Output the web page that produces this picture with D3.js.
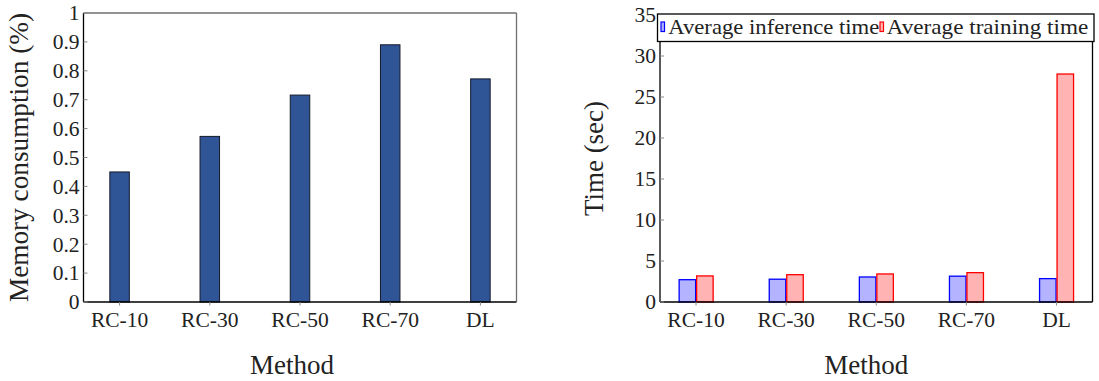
<!DOCTYPE html>
<html>
<head>
<meta charset="utf-8">
<script src="https://cdn.jsdelivr.net/npm/d3@7"></script>
<style>
  html, body { margin: 0; padding: 0; background: #fff; }
  svg { display: block; }
</style>
</head>
<body>
<svg id="chart" width="1099" height="381"></svg>
<script>
// Methods compared on both panels
const methods = ["RC-10", "RC-30", "RC-50", "RC-70", "DL"];

// Left panel: memory consumption (%)
const memoryUsage = [0.45, 0.573, 0.716, 0.89, 0.772];
const memoryTicks = [0, 0.1, 0.2, 0.3, 0.4, 0.5, 0.6, 0.7, 0.8, 0.9, 1];

// Right panel: timings in seconds
const inferenceTime = [2.72, 2.78, 3.05, 3.15, 2.85];
const trainingTime = [3.18, 3.33, 3.42, 3.58, 27.8];
const timeTicks = [0, 5, 10, 15, 20, 25, 30, 35];
const seriesNames = ["Average inference time", "Average training time"];

const FONT = "'Liberation Serif'";

const svg = d3.select("#chart");
svg.append("rect").attr("width", 1099).attr("height", 381).attr("fill", "#fff");

const fmt = d3.format("~g");

function label(g) {
  return g.append("text").style("font-family", FONT).attr("fill", "#222");
}

function drawFrame(g, x0, x1, y0, y1, sideColor) {
  // bottom and left axes
  g.append("line").attr("x1", x0).attr("x2", x1).attr("y1", y1).attr("y2", y1)
    .attr("stroke", "#000").attr("stroke-width", 1.3);
  g.append("line").attr("x1", x0).attr("x2", x0).attr("y1", y0).attr("y2", y1)
    .attr("stroke", "#000").attr("stroke-width", 1.3);
  // top and right border
  g.append("line").attr("x1", x0).attr("x2", x1).attr("y1", y0).attr("y2", y0)
    .attr("stroke", sideColor).attr("stroke-width", 1.3);
  g.append("line").attr("x1", x1).attr("x2", x1).attr("y1", y0).attr("y2", y1)
    .attr("stroke", sideColor).attr("stroke-width", 1.3);
}

function drawYAxis(g, y, ticks, x0) {
  const t = g.append("g").selectAll("g").data(ticks).join("g")
    .attr("transform", d => `translate(0,${y(d)})`);
  t.append("line").attr("x1", x0).attr("x2", x0 + 4).attr("stroke", "#888").attr("stroke-width", 1);
  t.append("text").style("font-family", FONT).attr("fill", "#222")
    .attr("x", x0 - 4).attr("text-anchor", "end").attr("dy", "0.34em")
    .attr("font-size", 21.5).text(d => fmt(d));
}

function drawXAxis(g, x, y1) {
  const t = g.append("g").selectAll("g").data(methods).join("g")
    .attr("transform", d => `translate(${x(d)},0)`);
  t.append("line").attr("y1", y1).attr("y2", y1 + 3.5).attr("stroke", "#888").attr("stroke-width", 1);
  t.append("text").style("font-family", FONT).attr("fill", "#222")
    .attr("y", 327).attr("text-anchor", "middle").attr("font-size", 21.5).text(d => d);
}

// ---------- Left panel: memory consumption ----------
{
  const L = { x0: 83.5, x1: 516.5, y0: 13, y1: 302 };
  const g = svg.append("g");
  const x = d3.scalePoint().domain(methods).range([L.x0, L.x1]).padding(0.4);
  const y = d3.scaleLinear().domain([0, 1]).range([L.y1, L.y0]);
  const bw = 19.5;

  g.append("g").selectAll("rect").data(methods).join("rect")
    .attr("x", d => x(d) - bw / 2)
    .attr("y", (d, i) => y(memoryUsage[i]))
    .attr("width", bw)
    .attr("height", (d, i) => y(0) - y(memoryUsage[i]))
    .attr("fill", "#2f5597").attr("stroke", "#151a2a").attr("stroke-width", 1);

  drawFrame(g, L.x0, L.x1, L.y0, L.y1, "#6f6f6f");
  drawYAxis(g, y, memoryTicks, L.x0);
  drawXAxis(g, x, L.y1);

  label(g).attr("x", (L.x0 + L.x1) / 2 - 8).attr("y", 374)
    .attr("text-anchor", "middle").attr("font-size", 27).text("Method");
  label(g).attr("transform", `translate(28,${(L.y0 + L.y1) / 2}) rotate(-90)`)
    .attr("text-anchor", "middle").attr("font-size", 27)
    .attr("textLength", 289).attr("lengthAdjust", "spacingAndGlyphs")
    .text("Memory consumption (%)");
}

// ---------- Right panel: inference and training time ----------
{
  const R = { x0: 660, x1: 1092.5, y0: 15, y1: 302 };
  const g = svg.append("g");
  const x = d3.scalePoint().domain(methods).range([R.x0, R.x1]).padding(0.4);
  const y = d3.scaleLinear().domain([0, 35]).range([R.y1, R.y0]);
  const bw = 16.5;

  const series = [
    { name: seriesNames[0], values: inferenceTime, fill: "#b3b3ff", stroke: "#0000ff", shift: -bw - 0.4 },
    { name: seriesNames[1], values: trainingTime, fill: "#ffb3b3", stroke: "#ff0000", shift: 0.6 }
  ];

  series.forEach(s => {
    g.append("g").selectAll("rect").data(methods).join("rect")
      .attr("x", d => x(d) + s.shift)
      .attr("y", (d, i) => y(s.values[i]))
      .attr("width", bw)
      .attr("height", (d, i) => y(0) - y(s.values[i]))
      .attr("fill", s.fill).attr("stroke", s.stroke).attr("stroke-width", 1.3);
  });

  drawFrame(g, R.x0, R.x1, R.y0, R.y1, "#000");
  drawYAxis(g, y, timeTicks, R.x0);
  drawXAxis(g, x, R.y1);

  label(g).attr("x", (R.x0 + R.x1) / 2 - 10).attr("y", 374)
    .attr("text-anchor", "middle").attr("font-size", 27).text("Method");
  label(g).attr("transform", `translate(603,${(R.y0 + R.y1) / 2}) rotate(-90)`)
    .attr("text-anchor", "middle").attr("font-size", 27)
    .attr("textLength", 115).attr("lengthAdjust", "spacingAndGlyphs")
    .text("Time (sec)");

  // legend across the top of the plot
  const lg = g.append("g");
  lg.append("rect").attr("x", 657.5).attr("y", 14).attr("width", 436.5).attr("height", 27.5)
    .attr("fill", "#fff").attr("stroke", "#000").attr("stroke-width", 1.3);
  const entries = [
    { sw: 661, tx: 668.3, len: 211 },
    { sw: 880, tx: 886.7, len: 201.5 }
  ];
  series.forEach((s, i) => {
    const e = entries[i];
    lg.append("rect").attr("x", e.sw).attr("y", 22).attr("width", 3.5).attr("height", 9.5)
      .attr("fill", s.fill).attr("stroke", s.stroke).attr("stroke-width", 1.2);
    label(lg).attr("x", e.tx).attr("y", 34.3).attr("font-size", 22)
      .attr("textLength", e.len).attr("lengthAdjust", "spacingAndGlyphs").text(s.name);
  });
}
</script>
</body>
</html>
